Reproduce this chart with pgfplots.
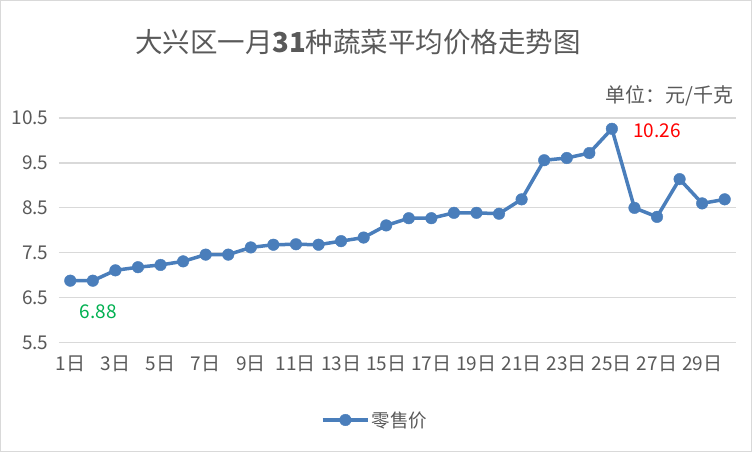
\documentclass[border=0pt]{standalone}
\usepackage{fontspec}
\setmainfont{Noto Sans CJK SC}
\usepackage{pgfplots}
\pgfplotsset{compat=1.18}

\definecolor{txtgray}{HTML}{595959}
\definecolor{gridgray}{HTML}{D9D9D9}
\definecolor{lineblue}{HTML}{4A7EBB}
\definecolor{lowgreen}{HTML}{00B050}

\begin{document}
\begin{tikzpicture}
  \useasboundingbox (0,0) rectangle (752pt,452pt);
  \draw[gridgray, line width=1pt] (0.5pt,0.5pt) rectangle (751.5pt,451.5pt);
  \node[text=txtgray, font=\fontsize{27.5}{32}\selectfont] at (358pt,410pt)
    {大兴区一月\textbf{31}种蔬菜平均价格走势图};
  \node[text=txtgray, font=\fontsize{20}{24}\selectfont, anchor=east] at (737pt,356pt)
    {单位：元/千克};
  \begin{axis}[
      at={(59pt,109.3pt)}, anchor=south west,
      scale only axis,
      width=677pt, height=224.7pt,
      xmin=0.5, xmax=30.5,
      ymin=5.5, ymax=10.5,
      ytick={5.5,6.5,...,10.5},
      xtick={1,3,...,29},
      xticklabels={1日,3日,5日,7日,9日,11日,13日,15日,17日,19日,21日,23日,25日,27日,29日},
      /pgf/number format/assume math mode=true,
      yticklabel style={xshift=-7pt, /pgf/number format/.cd, fixed, fixed zerofill, precision=1},
      xticklabel style={yshift=-10pt},
      tick style={draw=none},
      axis line style={draw=none},
      ymajorgrids,
      grid style={gridgray, line width=1.2pt},
      ticklabel style={text=txtgray, font=\fontsize{19}{22}\selectfont},
      clip=false,
      legend style={at={(0.467,-0.344)}, anchor=center, draw=none, fill=none,
        font=\fontsize{18.5}{22}\selectfont, text=txtgray},
      legend image code/.code={
        \draw[mark repeat=2, mark phase=2, #1] plot coordinates {(0cm,0cm) (0.8cm,0cm) (1.6cm,0cm)};
      },
    ]
    \addplot[lineblue, line width=3.5pt, mark=*, mark size=5.8pt,
      mark options={solid, fill=lineblue, draw=lineblue, line width=0.4pt}] coordinates {
      (1,6.88) (2,6.88) (3,7.11) (4,7.18) (5,7.23) (6,7.31) (7,7.46) (8,7.46)
      (9,7.62) (10,7.68) (11,7.69) (12,7.68) (13,7.76) (14,7.84) (15,8.11)
      (16,8.27) (17,8.27) (18,8.39) (19,8.39) (20,8.37) (21,8.69) (22,9.56)
      (23,9.61) (24,9.72) (25,10.26) (26,8.50) (27,8.30) (28,9.14) (29,8.60)
      (30,8.69)
    };
    \legend{零售价}
    \node[text=lowgreen, font=\fontsize{19}{22}\selectfont] at (axis cs:2.24,6.19) {6.88};
    \node[text=red, font=\fontsize{19}{22}\selectfont] at (axis cs:27.0,10.22) {10.26};
  \end{axis}
\end{tikzpicture}
\end{document}
